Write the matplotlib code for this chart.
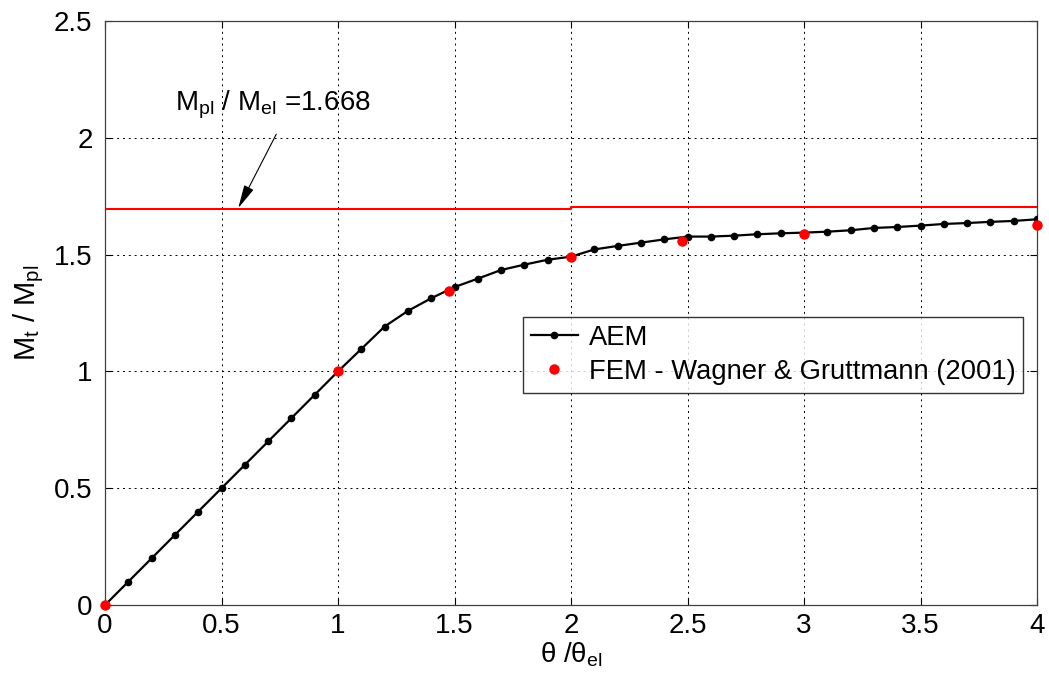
import numpy as np
import matplotlib.pyplot as plt

plt.rcParams['font.family'] = ['Liberation Sans', 'DejaVu Sans']
plt.rcParams['mathtext.fontset'] = 'custom'
plt.rcParams['mathtext.rm'] = 'Liberation Sans'
plt.rcParams['mathtext.it'] = 'Liberation Sans:italic'

# AEM solution, rotation ratio 0..4 in steps of 0.1
aem_x = np.round(np.arange(0, 4.01, 0.1), 1)
aem_y = [0.0, 0.1, 0.2, 0.3, 0.4, 0.5, 0.6, 0.7, 0.8, 0.9, 1.0,
         1.096, 1.192, 1.259, 1.313, 1.361, 1.397, 1.434, 1.457, 1.478, 1.491,
         1.522, 1.537, 1.551, 1.565, 1.577, 1.577, 1.581, 1.587, 1.591, 1.594,
         1.598, 1.604, 1.614, 1.618, 1.624, 1.631, 1.635, 1.640, 1.644, 1.651]

# FEM reference points (Wagner & Gruttmann 2001)
fem_x = [0.0, 1.0, 1.475, 2.0, 2.475, 3.0, 4.0]
fem_y = [0.0, 1.0, 1.342, 1.490, 1.560, 1.589, 1.625]

# plastic limit line
lim_x = [0.0, 2.0, 2.0, 4.0]
lim_y = [1.697, 1.697, 1.702, 1.702]

fig = plt.figure(figsize=(10.49, 6.86), dpi=100)
ax = fig.add_axes([0.1001, 0.118, 0.8885, 0.8515])

ax.plot(lim_x, lim_y, color='red', linewidth=1.5, zorder=2)
ax.plot(aem_x, aem_y, '-', color='black', linewidth=1.6, marker='o',
        markersize=4.5, label='AEM', zorder=3)
ax.plot(fem_x, fem_y, 'o', color='red', markersize=7.5, markeredgewidth=0,
        label='FEM - Wagner & Gruttmann (2001)', zorder=4, clip_on=False)

# ratio label with arrow pointing to the limit line
ax.text(0.3, 2.14, r'M$_{\rm pl}$ / M$_{\rm el}$ =1.668', fontsize=20,
        ha='left', va='center', zorder=5)
ax.annotate('', xy=(0.572, 1.699), xytext=(0.735, 2.015),
            arrowprops=dict(arrowstyle='-|>,head_length=0.9,head_width=0.2',
                            color='black', lw=0.8, mutation_scale=16,
                            shrinkA=0, shrinkB=0),
            zorder=5)

ax.set_xlim(0, 4)
ax.set_ylim(0, 2.5)
ax.set_xticks(np.arange(0, 4.01, 0.5))
ax.set_yticks(np.arange(0, 2.51, 0.5))
ax.set_xticklabels(['0', '0.5', '1', '1.5', '2', '2.5', '3', '3.5', '4'])
ax.set_yticklabels(['0', '0.5', '1', '1.5', '2', '2.5'])
ax.tick_params(direction='in', top=True, right=True, labelsize=20,
               length=5, width=0.8)
ax.tick_params(axis='y', pad=9)
ax.tick_params(axis='x', pad=6)
ax.grid(True, color='black', linestyle=(0, (2, 4)), linewidth=0.7)
for s in ax.spines.values():
    s.set_color('#404040')
    s.set_linewidth(0.9)

ax.set_xlabel(r'θ /θ$_{\rm el}$', fontsize=20, labelpad=1)
ax.set_ylabel(r'M$_{\rm t}$ / M$_{\rm pl}$', fontsize=21, labelpad=6)

leg = ax.legend(loc='upper left', bbox_to_anchor=(0.449, 0.493), fontsize=19.7,
                frameon=True, fancybox=False, edgecolor='black',
                handlelength=1.7, handletextpad=0.4, borderpad=0.28,
                labelspacing=0.3, borderaxespad=0)
leg.get_frame().set_linewidth(1.0)

fig.savefig('out.png', dpi=100, facecolor='white')
